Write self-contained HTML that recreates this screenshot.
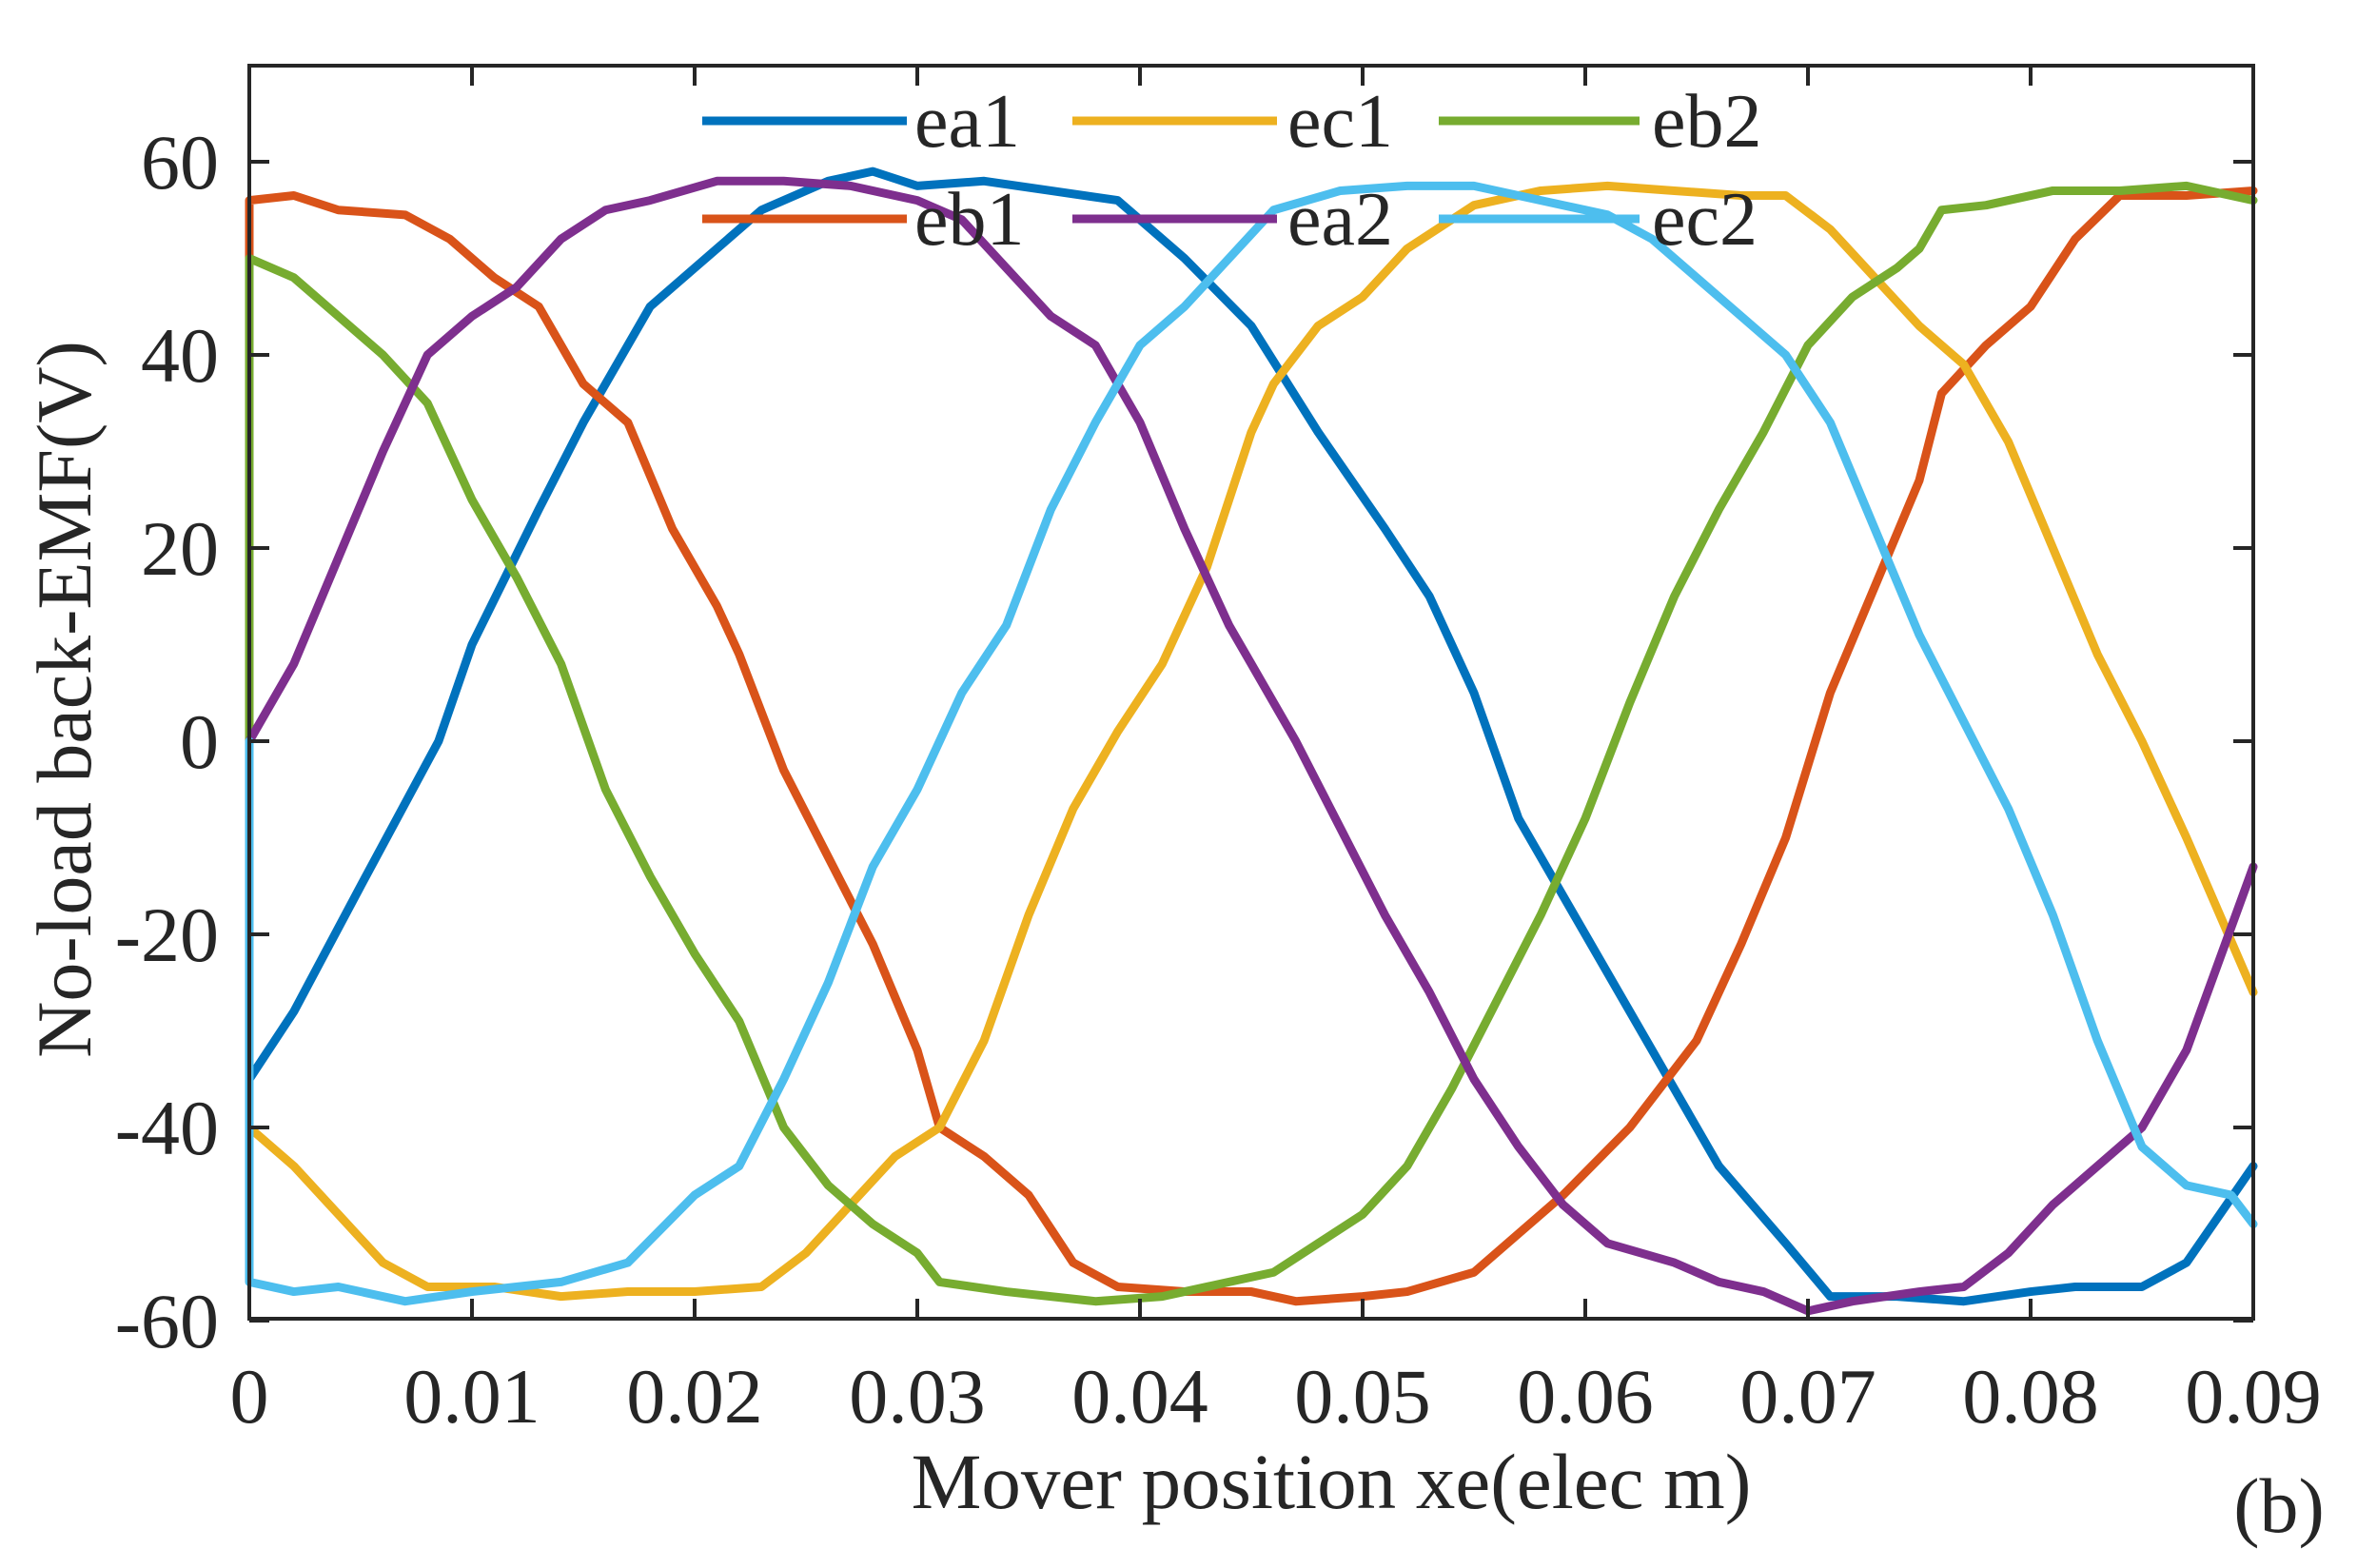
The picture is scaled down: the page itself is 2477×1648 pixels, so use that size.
<!DOCTYPE html>
<html><head><meta charset="utf-8"><style>
html,body{margin:0;padding:0;background:#fff}
svg{display:block}
text{font-family:"Liberation Serif",serif;fill:#262626}
</style></head><body>
<svg width="2477" height="1648" viewBox="0 0 2477 1648" xmlns="http://www.w3.org/2000/svg">
<rect width="2477" height="1648" fill="#fff"/>
<g fill="none" stroke-width="9" stroke-linejoin="round" stroke-linecap="round">
<g transform="matrix(23.4 0 0 -10.15 262 779)">
<polyline vector-effect="non-scaling-stroke" stroke="#0072BD" points="0,-35 2,-28 5,-15 8.5,0 10,10 13,24 15,33 18,45 20,49 23,55 26,58 28,59 30,57.5 33,58 36,57 39,56 42,50 45,43 48,32 51,22 53,15 55,5 57,-8 60,-20 63,-32 66,-44 69,-52 71,-57.5 74,-57.5 77,-58 80,-57 82,-56.5 85,-56.5 87,-54 90,-44"/>
<polyline vector-effect="non-scaling-stroke" stroke="#D95319" points="0,50 0,56 2,56.5 4,55 7,54.5 9,52 11,48 13,45 15,37 17,33 19,22 21,14 22,9 24,-3 26,-12 28,-21 30,-32 31,-40 33,-43 35,-47 37,-54 39,-56.5 42,-57 45,-57 47,-58 50,-57.5 52,-57 55,-55 57,-51 59,-47 62,-40 65,-31 67,-21 69,-10 71,5 73,16 75,27 76,36 78,41 80,45 82,52 84,56.5 87,56.5 90,57"/>
<polyline vector-effect="non-scaling-stroke" stroke="#EDB120" points="0,-30 0,-40 2,-44 4,-49 6,-54 8,-56.5 11,-56.5 14,-57.5 17,-57 20,-57 23,-56.5 25,-53 27,-48 29,-43 31,-40 33,-31 35,-18 37,-7 39,1 41,8 43,18 45,32 46,37 48,43 50,46 52,51 55,55.5 58,57 61,57.5 64,57 67,56.5 69,56.5 71,53 73,48 75,43 77,39 79,31 81,20 83,9 85,0 87,-10 90,-26"/>
<polyline vector-effect="non-scaling-stroke" stroke="#77AC30" points="0,0 0,50 2,48 4,44 6,40 8,35 10,25 12,17 14,8 16,-5 18,-14 20,-22 22,-29 24,-40 26,-46 28,-50 30,-53 31,-56 34,-57 38,-58 41,-57.5 44,-56 46,-55 48,-52 50,-49 52,-44 54,-36 56,-27 58,-18 60,-8 62,4 64,15 66,24 68,32 70,41 72,46 74,49 75,51 76,55 78,55.5 81,57 84,57 87,57.5 90,56"/>
<polyline vector-effect="non-scaling-stroke" stroke="#7E2F8E" points="0,0 2,8 4,19 6,30 8,40 10,44 12,47 14,52 16,55 18,56 21,58 24,58 27,57.5 30,56 32,54 34,49 36,44 38,41 40,33 42,22 44,12 45,8 47,0 49,-9 51,-18 53,-26 55,-35 57,-42 59,-48 61,-52 64,-54 66,-56 68,-57 70,-59 72,-58 75,-57 77,-56.5 79,-53 81,-48 84,-42 85,-40 87,-32 90,-13"/>
<polyline vector-effect="non-scaling-stroke" stroke="#4DBEEE" points="0,0 0,-56 2,-57 4,-56.5 7,-58 10,-57 14,-56 17,-54 20,-47 22,-44 24,-35 26,-25 28,-13 30,-5 32,5 34,12 36,24 38,33 40,41 42,45 44,50 46,55 49,57 52,57.5 55,57.5 58,56 61,54.5 63,52 65,48 67,44 69,40 71,33 73,22 75,11 77,2 79,-7 81,-18 83,-31 85,-42 87,-46 89,-47 90,-50"/>
</g>
</g>
<rect x="262" y="69" width="2106" height="1317" fill="none" stroke="#262626" stroke-width="4"/>
<g stroke="#262626" stroke-width="4">
<line x1="262" y1="170" x2="283" y2="170"/><line x1="2368" y1="170" x2="2347" y2="170"/>
<line x1="262" y1="373" x2="283" y2="373"/><line x1="2368" y1="373" x2="2347" y2="373"/>
<line x1="262" y1="576" x2="283" y2="576"/><line x1="2368" y1="576" x2="2347" y2="576"/>
<line x1="262" y1="779" x2="283" y2="779"/><line x1="2368" y1="779" x2="2347" y2="779"/>
<line x1="262" y1="982" x2="283" y2="982"/><line x1="2368" y1="982" x2="2347" y2="982"/>
<line x1="262" y1="1185" x2="283" y2="1185"/><line x1="2368" y1="1185" x2="2347" y2="1185"/>
<line x1="262" y1="1388" x2="283" y2="1388"/><line x1="2368" y1="1388" x2="2347" y2="1388"/>
<line x1="496" y1="1386" x2="496" y2="1365"/><line x1="496" y1="69" x2="496" y2="90"/>
<line x1="730" y1="1386" x2="730" y2="1365"/><line x1="730" y1="69" x2="730" y2="90"/>
<line x1="964" y1="1386" x2="964" y2="1365"/><line x1="964" y1="69" x2="964" y2="90"/>
<line x1="1198" y1="1386" x2="1198" y2="1365"/><line x1="1198" y1="69" x2="1198" y2="90"/>
<line x1="1432" y1="1386" x2="1432" y2="1365"/><line x1="1432" y1="69" x2="1432" y2="90"/>
<line x1="1666" y1="1386" x2="1666" y2="1365"/><line x1="1666" y1="69" x2="1666" y2="90"/>
<line x1="1900" y1="1386" x2="1900" y2="1365"/><line x1="1900" y1="69" x2="1900" y2="90"/>
<line x1="2134" y1="1386" x2="2134" y2="1365"/><line x1="2134" y1="69" x2="2134" y2="90"/>
</g>
<g font-size="82" text-anchor="end">
<text x="230" y="198">60</text>
<text x="230" y="401">40</text>
<text x="230" y="604">20</text>
<text x="230" y="807">0</text>
<text x="230" y="1010">-20</text>
<text x="230" y="1213">-40</text>
<text x="230" y="1416">-60</text>
</g>
<g font-size="82" text-anchor="middle">
<text x="262" y="1495">0</text>
<text x="496" y="1495">0.01</text>
<text x="730" y="1495">0.02</text>
<text x="964" y="1495">0.03</text>
<text x="1198" y="1495">0.04</text>
<text x="1432" y="1495">0.05</text>
<text x="1666" y="1495">0.06</text>
<text x="1900" y="1495">0.07</text>
<text x="2134" y="1495">0.08</text>
<text x="2368" y="1495">0.09</text>
<text x="1399" y="1585" font-size="83">Mover position xe(elec m)</text>
<text transform="translate(95,735) rotate(-90)">No-load back-EMF(V)</text>
</g>
<text x="2395" y="1610" font-size="82" text-anchor="middle" fill="#000">(b)</text>
<g stroke-width="9">
<line x1="738" y1="127" x2="953" y2="127" stroke="#0072BD"/>
<line x1="1127" y1="127" x2="1342" y2="127" stroke="#EDB120"/>
<line x1="1512" y1="127" x2="1723" y2="127" stroke="#77AC30"/>
<line x1="738" y1="230" x2="953" y2="230" stroke="#D95319"/>
<line x1="1127" y1="230" x2="1342" y2="230" stroke="#7E2F8E"/>
<line x1="1512" y1="230" x2="1723" y2="230" stroke="#4DBEEE"/>
</g>
<g font-size="80">
<text x="961" y="154" fill="#000">ea1</text>
<text x="1353" y="154" fill="#000">ec1</text>
<text x="1736" y="154" fill="#000">eb2</text>
<text x="961" y="257" fill="#000">eb1</text>
<text x="1353" y="257" fill="#000">ea2</text>
<text x="1736" y="257" fill="#000">ec2</text>
</g>
</svg>
</body></html>
